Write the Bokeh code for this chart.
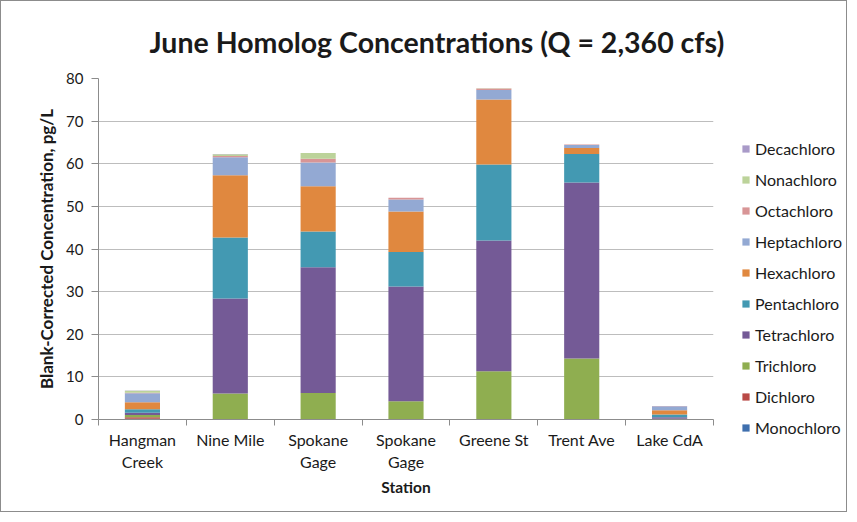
from bokeh.plotting import figure
from bokeh.layouts import row
from bokeh.models import (ColumnDataSource, Range1d, FixedTicker, Legend, LegendItem)
from bokeh.embed import file_html
from bokeh.resources import INLINE

stations = ["Hangman\nCreek", "Nine Mile", "Spokane\nGage", "Spokane\nGage",
            "Greene St", "Trent Ave", "Lake CdA"]
homologs = ["Monochloro", "Dichloro", "Trichloro", "Tetrachloro", "Pentachloro",
            "Hexachloro", "Heptachloro", "Octachloro", "Nonachloro", "Decachloro"]
colors = ["#3F6FAE", "#B94A46", "#8FAE50", "#745A96", "#4399B2",
          "#E0883F", "#93A9D3", "#D89596", "#BCD39A", "#A99AC8"]

monochloro = [0.2, 0.0, 0.0, 0.0, 0.0, 0.0, 0.1]
dichloro = [0.3, 0.0, 0.0, 0.0, 0.0, 0.0, 0.0]
trichloro = [0.55, 6.1, 6.2, 4.3, 11.3, 14.3, 0.1]
tetrachloro = [0.55, 22.3, 29.5, 26.9, 30.7, 41.3, 0.35]
pentachloro = [0.8, 14.3, 8.4, 8.1, 17.8, 6.7, 0.6]
hexachloro = [1.65, 14.6, 10.6, 9.5, 15.3, 1.4, 1.0]
heptachloro = [2.1, 4.2, 5.6, 2.8, 2.2, 0.7, 0.95]
octachloro = [0.1, 0.3, 0.9, 0.4, 0.35, 0.1, 0.05]
nonachloro = [0.5, 0.45, 1.3, 0.0, 0.05, 0.0, 0.0]
decachloro = [0.05, 0.05, 0.0, 0.0, 0.0, 0.0, 0.0]

y_ticks = [0, 10, 20, 30, 40, 50, 60, 70, 80]

series = [monochloro, dichloro, trichloro, tetrachloro, pentachloro,
          hexachloro, heptachloro, octachloro, nonachloro, decachloro]

xs = [i + 0.5 for i in range(len(stations))]
data = {"x": xs}
for name, vals in zip(homologs, series):
    data[name] = vals
source = ColumnDataSource(data)

FONT = "Lato"
TXT = "#1a1a1a"
H = 510

p = figure(width=740, height=H, output_backend="svg", toolbar_location=None,
           x_range=Range1d(0, len(stations)), y_range=Range1d(0, 80),
           min_border_left=97, min_border_right=28, min_border_top=77,
           min_border_bottom=92, frame_align=False)

renderers = p.vbar_stack(homologs, x="x", width=0.4, source=source,
                         color=colors, line_color=None)

p.title.text = "June Homolog Concentrations (Q = 2,360 cfs)"
p.title.text_font = FONT
p.title.text_font_size = "28.5px"
p.title.text_font_style = "bold"
p.title.text_color = TXT
p.title.align = "left"
p.title.offset = 51
p.title.standoff = 39

p.outline_line_color = None
p.background_fill_color = "white"

# y axis
p.yaxis.ticker = FixedTicker(ticks=y_ticks)
p.yaxis.axis_label = "Blank-Corrected Concentration, pg/L"
p.yaxis.axis_label_text_font = FONT
p.yaxis.axis_label_text_font_size = "17px"
p.yaxis.axis_label_text_font_style = "bold"
p.yaxis.axis_label_text_color = TXT
p.yaxis.axis_label_standoff = 6
p.yaxis.major_label_text_font = FONT
p.yaxis.major_label_text_font_size = "15px"
p.yaxis.major_label_text_color = TXT
p.yaxis.major_label_standoff = 8
p.yaxis.major_tick_out = 7
p.yaxis.major_tick_in = 0
p.yaxis.minor_tick_line_color = None
p.yaxis.axis_line_color = "#8c8c8c"
p.yaxis.major_tick_line_color = "#8c8c8c"

# x axis
p.xaxis.ticker = FixedTicker(ticks=xs, minor_ticks=list(range(len(stations) + 1)))
p.xaxis.major_label_overrides = {x: s for x, s in zip(xs, stations)}
p.xaxis.major_label_text_font = FONT
p.xaxis.major_label_text_font_size = "16px"
p.xaxis.major_label_text_color = TXT
p.xaxis.major_label_standoff = 4
p.xaxis.major_tick_out = 0
p.xaxis.major_tick_in = 0
p.xaxis.major_tick_line_color = None
p.xaxis.minor_tick_out = 6
p.xaxis.minor_tick_in = 0
p.xaxis.minor_tick_line_color = "#8c8c8c"
p.xaxis.axis_line_color = "#8c8c8c"
p.xaxis.axis_label = "Station"
p.xaxis.axis_label_text_font = FONT
p.xaxis.axis_label_text_font_size = "15.5px"
p.xaxis.axis_label_text_font_style = "bold"
p.xaxis.axis_label_text_color = TXT
p.xaxis.axis_label_standoff = 4

p.xgrid.grid_line_color = None
p.ygrid.ticker = FixedTicker(ticks=y_ticks)
p.ygrid.grid_line_color = "#bdbdbd"

# legend panel: separate figure; its swatch bars have zero width and lie out of view
pl = figure(width=105, height=H, output_backend="svg", toolbar_location=None,
            x_range=Range1d(100, 101), y_range=Range1d(1000, 1001),
            x_axis_type=None, y_axis_type=None,
            min_border_left=0, min_border_right=0, min_border_top=0,
            min_border_bottom=0, frame_align=False)
pl.outline_line_color = None
pl.xgrid.visible = False
pl.ygrid.visible = False
leg_renderers = pl.vbar_stack(homologs, x="x", width=0, source=source,
                              color=colors, line_color=None)

items = [LegendItem(label=name, renderers=[r])
         for name, r in zip(homologs, leg_renderers)][::-1]

legend = Legend(items=items, location=(0, 74), margin=0, padding=0,
                border_line_color=None, background_fill_alpha=0,
                glyph_width=9, glyph_height=9, label_height=20, spacing=11,
                label_standoff=5, label_text_font=FONT,
                label_text_font_size="16px", label_text_color=TXT)
pl.add_layout(legend)

layout = row(p, pl, styles={"border": "1px solid #8c8c8c"})

open("out.html", "w").write(file_html(layout, INLINE))
